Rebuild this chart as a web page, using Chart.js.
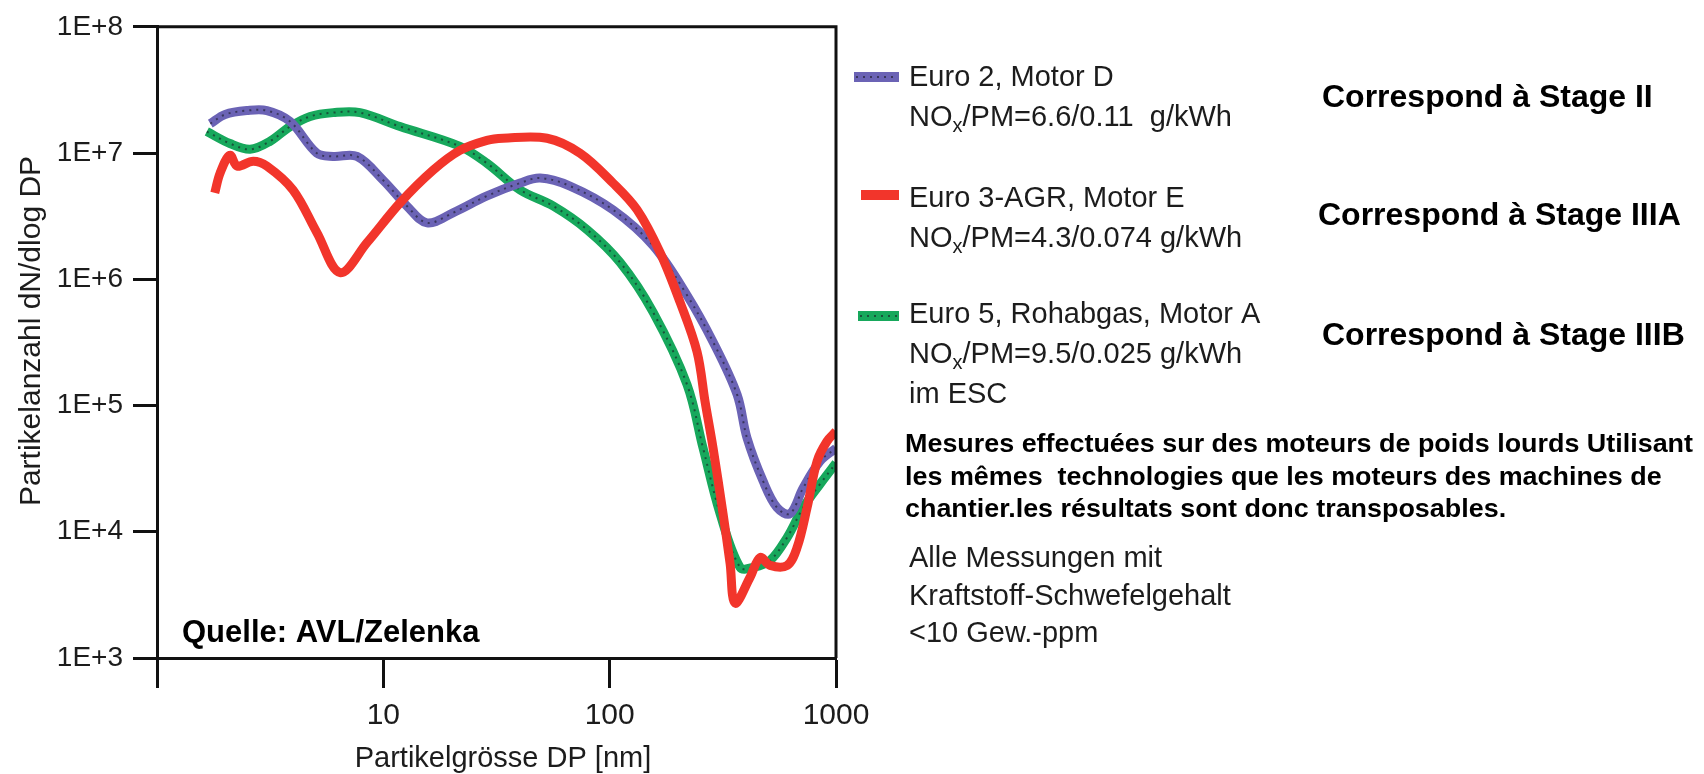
<!DOCTYPE html>
<html>
<head>
<meta charset="utf-8">
<script src="https://cdn.jsdelivr.net/npm/chart.js@4.4.1/dist/chart.umd.min.js"></script>
<style>
  html, body { margin: 0; padding: 0; background: #fff; }
  #wrap { width: 1704px; height: 774px; }
</style>
</head>
<body>
<div id="wrap"><canvas id="psdChart" width="1704" height="774"></canvas></div>
<script>
// Particle size DP [nm] and particle count dN/dlog DP
const euro2Size = [1.72, 2.0, 2.5, 3.06, 3.87, 5.09, 6.0, 7.65, 9.97, 12.7, 15.6, 20.3, 28.7, 40.2, 49.3, 66.8, 103.5, 155.5, 219.8, 286.4, 365.6, 404.8, 476.2, 549.2, 626.6, 715.6, 850.8, 1000];
const euro2Count = [1.71e7, 2.02e7, 2.17e7, 2.17e7, 1.78e7, 9.96e6, 9.4e6, 9.4e6, 6.1e6, 3.81e6, 2.8e6, 3.36e6, 4.57e6, 5.78e6, 6.34e6, 5.48e6, 3.55e6, 1.85e6, 7.47e5, 3.19e5, 1.22e5, 5.5e4, 2.52e4, 1.55e4, 1.39e4, 2.22e4, 3.62e4, 4.59e4];

const euro3Size = [1.80, 1.90, 2.10, 2.26, 2.66, 3.06, 3.99, 5.09, 6.44, 8.47, 11.85, 16.6, 21.8, 28.7, 33.8, 52.9, 74.0, 103.5, 132.2, 167.0, 204.7, 243.3, 264, 286.4, 316.9, 340.4, 358.2, 417.2, 461.9, 511.6, 608, 673, 745, 825, 913, 1000];
const euro3Count = [4.83e6, 6.94e6, 9.6e6, 7.88e6, 8.62e6, 7.88e6, 5.1e6, 2.34e6, 1.13e6, 1.95e6, 4.03e6, 7.32e6, 1.05e7, 1.26e7, 1.31e7, 1.31e7, 9.96e6, 5.78e6, 3.55e6, 1.63e6, 6.58e5, 2.66e5, 1.07e5, 4.59e4, 1.39e4, 5.61e3, 2.72e3, 4.36e3, 6.25e3, 5.41e3, 5.41e3, 7.5e3, 1.55e4, 3.62e4, 5.21e4, 6.24e4];

const euro5Size = [1.66, 2.10, 2.58, 3.16, 3.87, 4.75, 6.0, 7.89, 11.85, 21.8, 28.7, 40.2, 56.2, 79.5, 111.2, 155.5, 219.8, 258.7, 307.5, 376.9, 430.2, 511.6, 608, 715.6, 850.8, 1000];
const euro5Count = [1.48e7, 1.19e7, 1.07e7, 1.24e7, 1.62e7, 1.95e7, 2.09e7, 2.09e7, 1.62e7, 1.13e7, 8.3e6, 5.1e6, 3.81e6, 2.47e6, 1.36e6, 5.49e5, 1.46e5, 4.59e4, 1.39e4, 5.22e3, 5.22e3, 5.92e3, 9.0e3, 1.55e4, 2.39e4, 3.5e4];

// axis ticks
const xTicks = [1, 10, 100, 1000];
const xTickLabels = ["", "10", "100", "1000"];
const yTicks = [1e3, 1e4, 1e5, 1e6, 1e7, 1e8];
const yTickLabels = ["1E+3", "1E+4", "1E+5", "1E+6", "1E+7", "1E+8"];
const xTitle = "Partikelgrösse DP [nm]";
const yTitle = "Partikelanzahl dN/dlog DP";

// legend and notes
const engineNames = ["Euro 2, Motor D", "Euro 3-AGR, Motor E", "Euro 5, Rohabgas, Motor A"];
const engineLimits = ["/PM=6.6/0.11  g/kWh", "/PM=4.3/0.074 g/kWh", "/PM=9.5/0.025 g/kWh"];
const stageNotes = ["Correspond à Stage II", "Correspond à Stage IIIA", "Correspond à Stage IIIB"];
const remarkLines = [
  "Mesures effectuées sur des moteurs de poids lourds Utilisant",
  "les mêmes  technologies que les moteurs des machines de",
  "chantier.les résultats sont donc transposables."
];
const fuelLines = ["Alle Messungen mit", "Kraftstoff-Schwefelgehalt", "<10 Gew.-ppm"];

const FONT = '"Liberation Sans", Arial, Helvetica, sans-serif';
const BLUE = "#6b63b5";
const RED = "#f2352b";
const GREEN = "#17a85c";
const DOTS = "rgba(25,25,35,0.6)";
const INK = "#1c1c1c";

function toPoints(sizes, counts) {
  return sizes.map((s, i) => ({ x: s, y: counts[i] }));
}

// solid thick line
function curve(label, sizes, counts, color, order) {
  return {
    label: label,
    data: toPoints(sizes, counts),
    borderColor: color,
    backgroundColor: color,
    borderWidth: 9,
    pointRadius: 0,
    tension: 0.35,
    borderCapStyle: "butt",
    order: order
  };
}

// dark speckles drawn on top of the blue and green lines
function speckles(sizes, counts, order) {
  return {
    label: "",
    data: toPoints(sizes, counts),
    borderColor: DOTS,
    borderWidth: 2,
    borderDash: [2, 5],
    pointRadius: 0,
    tension: 0.35,
    order: order
  };
}

// text, legend and frame drawn after the chart
const annotations = {
  id: "annotations",
  afterDraw(chart) {
    const ctx = chart.ctx;
    const area = chart.chartArea;
    ctx.save();

    // top and right frame
    ctx.strokeStyle = "#111";
    ctx.lineWidth = 3;
    ctx.beginPath();
    ctx.moveTo(area.left, area.top);
    ctx.lineTo(area.right, area.top);
    ctx.lineTo(area.right, area.bottom);
    ctx.stroke();

    // axis titles
    ctx.fillStyle = INK;
    ctx.font = "29px " + FONT;
    ctx.textAlign = "center";
    ctx.textBaseline = "alphabetic";
    ctx.fillText(xTitle, 503, 767);
    ctx.save();
    ctx.translate(40, 331);
    ctx.rotate(-Math.PI / 2);
    ctx.font = "30px " + FONT;
    ctx.fillText(yTitle, 0, 0);
    ctx.restore();

    ctx.textAlign = "left";
    ctx.fillStyle = "#000";
    ctx.font = "bold 31px " + FONT;
    ctx.fillText("Quelle: AVL/Zelenka", 182, 642);

    // legend
    const colors = [BLUE, RED, GREEN];
    const swatchY = [77, 195, 316];
    const swatchX = [854, 861, 858];
    const nameBase = [86, 207, 323];
    for (let i = 0; i < 3; i++) {
      ctx.strokeStyle = colors[i];
      ctx.lineWidth = 10;
      ctx.beginPath();
      ctx.moveTo(swatchX[i], swatchY[i]);
      ctx.lineTo(899, swatchY[i]);
      ctx.stroke();
      if (i !== 1) {
        ctx.strokeStyle = DOTS;
        ctx.lineWidth = 2;
        ctx.setLineDash([2, 5]);
        ctx.beginPath();
        ctx.moveTo(swatchX[i] + 2, swatchY[i]);
        ctx.lineTo(897, swatchY[i]);
        ctx.stroke();
        ctx.setLineDash([]);
      }

      ctx.fillStyle = INK;
      ctx.font = "29px " + FONT;
      ctx.fillText(engineNames[i], 909, nameBase[i]);
      const b2 = nameBase[i] + 40;
      ctx.fillText("NO", 909, b2);
      let x = 909 + ctx.measureText("NO").width;
      ctx.font = "20px " + FONT;
      ctx.fillText("x", x, b2 + 6);
      x += ctx.measureText("x").width;
      ctx.font = "29px " + FONT;
      ctx.fillText(engineLimits[i], x, b2);
    }
    ctx.fillText("im ESC", 909, 403);

    // stage notes
    ctx.fillStyle = "#000";
    ctx.font = "bold 32px " + FONT;
    const stageX = [1322, 1318, 1322];
    const stageBase = [107, 225, 345];
    for (let i = 0; i < 3; i++) {
      ctx.fillText(stageNotes[i], stageX[i], stageBase[i]);
    }

    // bold remark, stretched a little to the width of the original
    ctx.font = "bold 25px " + FONT;
    const stretch = 788 / ctx.measureText(remarkLines[0]).width;
    for (let i = 0; i < remarkLines.length; i++) {
      ctx.save();
      ctx.translate(905, 452 + i * 32.5);
      ctx.scale(stretch, 1);
      ctx.fillText(remarkLines[i], 0, 0);
      ctx.restore();
    }

    ctx.fillStyle = INK;
    ctx.font = "29px " + FONT;
    for (let i = 0; i < fuelLines.length; i++) {
      ctx.fillText(fuelLines[i], 909, 567 + i * 37.5);
    }
    ctx.restore();
  }
};

window.addEventListener("DOMContentLoaded", () => {
  const ctx = document.getElementById("psdChart").getContext("2d");

  new Chart(ctx, {
    type: "line",
    data: {
      datasets: [
        curve(engineNames[1], euro3Size, euro3Count, RED, 0),
        speckles(euro2Size, euro2Count, 1),
        curve(engineNames[0], euro2Size, euro2Count, BLUE, 2),
        speckles(euro5Size, euro5Count, 3),
        curve(engineNames[2], euro5Size, euro5Count, GREEN, 4)
      ]
    },
    options: {
      responsive: false,
      animation: false,
      devicePixelRatio: 1,
      layout: { padding: { top: 23, right: 868, left: 0, bottom: 0 } },
      plugins: {
        legend: { display: false },
        tooltip: { enabled: false }
      },
      scales: {
        x: {
          type: "logarithmic",
          min: 1,
          max: 1000,
          afterBuildTicks: (scale) => { scale.ticks = xTicks.map(v => ({ value: v })); },
          afterFit: (scale) => { scale.height = 116; },
          ticks: {
            autoSkip: false,
            maxRotation: 0,
            padding: 10,
            color: INK,
            font: { family: FONT, size: 30 },
            callback: (value) => xTickLabels[xTicks.indexOf(value)]
          },
          grid: { drawOnChartArea: false, drawTicks: true, tickLength: 30, tickWidth: 3, tickColor: "#111" },
          border: { display: true, color: "#111", width: 3 }
        },
        y: {
          type: "logarithmic",
          min: 1e3,
          max: 1e8,
          afterBuildTicks: (scale) => { scale.ticks = yTicks.map(v => ({ value: v })); },
          afterFit: (scale) => { scale.width = 157; },
          ticks: {
            autoSkip: false,
            padding: 10,
            color: INK,
            font: { family: FONT, size: 28 },
            callback: (value) => yTickLabels[yTicks.indexOf(value)]
          },
          grid: { drawOnChartArea: false, drawTicks: true, tickLength: 24, tickWidth: 3, tickColor: "#111" },
          border: { display: true, color: "#111", width: 3 }
        }
      }
    },
    plugins: [annotations]
  });
});
</script>
</body>
</html>
